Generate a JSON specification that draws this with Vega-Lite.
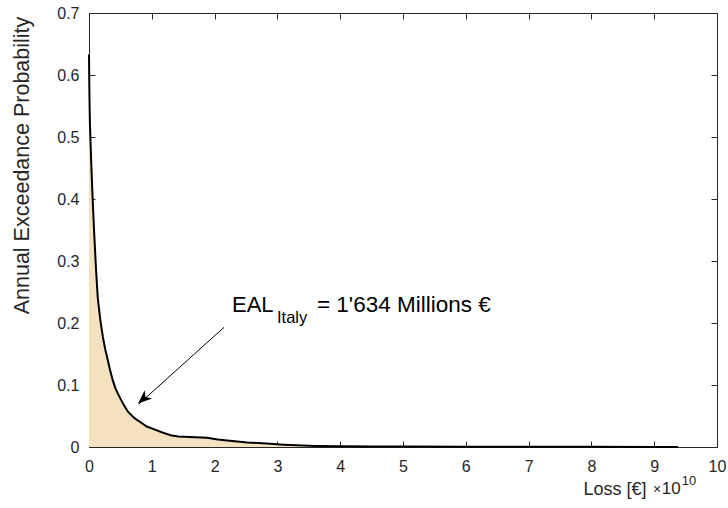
{
  "$schema": "https://vega.github.io/schema/vega-lite/v6.json",
  "width": 628,
  "height": 434,
  "autosize": "none",
  "padding": {"left": 89, "top": 13, "right": 11, "bottom": 61},
  "background": "white",
  "config": {
    "font": "Liberation Sans",
    "view": {"stroke": "#262626", "strokeWidth": 1},
    "axis": {
      "grid": false,
      "domainColor": "#262626",
      "tickColor": "#262626",
      "labelColor": "#262626",
      "titleColor": "#262626",
      "labelFontSize": 16,
      "titleFontSize": 18,
      "titleFontWeight": "normal",
      "tickSize": -6,
      "tickWidth": 1
    }
  },
  "datasets": {
    "aep": [
      {"loss": 0.0, "aep": 0.633},
      {"loss": 0.003, "aep": 0.6},
      {"loss": 0.008, "aep": 0.56},
      {"loss": 0.015, "aep": 0.52},
      {"loss": 0.025, "aep": 0.49},
      {"loss": 0.035, "aep": 0.46},
      {"loss": 0.05, "aep": 0.42},
      {"loss": 0.065, "aep": 0.385},
      {"loss": 0.08, "aep": 0.35},
      {"loss": 0.11, "aep": 0.29},
      {"loss": 0.14, "aep": 0.24},
      {"loss": 0.18, "aep": 0.205},
      {"loss": 0.22, "aep": 0.178},
      {"loss": 0.26, "aep": 0.157},
      {"loss": 0.3, "aep": 0.14},
      {"loss": 0.34, "aep": 0.122},
      {"loss": 0.38, "aep": 0.107},
      {"loss": 0.42, "aep": 0.095},
      {"loss": 0.46, "aep": 0.086},
      {"loss": 0.5, "aep": 0.078},
      {"loss": 0.56, "aep": 0.067},
      {"loss": 0.62, "aep": 0.057},
      {"loss": 0.72, "aep": 0.047},
      {"loss": 0.82, "aep": 0.04},
      {"loss": 0.92, "aep": 0.033},
      {"loss": 1.05, "aep": 0.028},
      {"loss": 1.18, "aep": 0.023},
      {"loss": 1.3, "aep": 0.019},
      {"loss": 1.42, "aep": 0.017},
      {"loss": 1.6, "aep": 0.016},
      {"loss": 1.88, "aep": 0.015},
      {"loss": 2.05, "aep": 0.012},
      {"loss": 2.2, "aep": 0.0105},
      {"loss": 2.52, "aep": 0.0073},
      {"loss": 2.83, "aep": 0.0056},
      {"loss": 3.1, "aep": 0.0038},
      {"loss": 3.31, "aep": 0.0028},
      {"loss": 3.6, "aep": 0.0018},
      {"loss": 4.0, "aep": 0.0013},
      {"loss": 4.5, "aep": 0.001},
      {"loss": 5.0, "aep": 0.0008},
      {"loss": 6.0, "aep": 0.0005},
      {"loss": 7.0, "aep": 0.0004},
      {"loss": 8.0, "aep": 0.0003},
      {"loss": 9.0, "aep": 0.0002},
      {"loss": 9.38, "aep": 0.0001}
    ]
  },
  "layer": [
    {
      "layer": [
        {
          "data": {"name": "aep"},
          "mark": {"type": "area", "color": "#f4e1c0", "interpolate": "linear"},
          "encoding": {
            "x": {
              "field": "loss",
              "type": "quantitative",
              "scale": {"domain": [0, 10], "nice": false, "zero": false},
              "axis": {
                "orient": "bottom",
                "values": [0, 1, 2, 3, 4, 5, 6, 7, 8, 9, 10],
                "format": "d",
                "labelPadding": 17,
                "labelFlush": false,
                "title": "Loss [€]",
                "titleAnchor": null,
                "titleAlign": "left",
                "titleBaseline": "alphabetic",
                "titleX": 494,
                "titleY": 47
              }
            },
            "y": {
              "field": "aep",
              "type": "quantitative",
              "scale": {"domain": [0, 0.7], "nice": false, "zero": false},
              "axis": {
                "orient": "left",
                "values": [0, 0.1, 0.2, 0.3, 0.4, 0.5, 0.6, 0.7],
                "format": "~g",
                "labelPadding": 16,
                "labelFlush": false,
                "title": "Annual Exceedance Probability",
                "titleFontSize": 21.5,
                "titleAngle": 270,
                "titleAlign": "center",
                "titleBaseline": "alphabetic",
                "titleX": -61,
                "titleY": 152
              }
            }
          }
        },
        {
          "data": {"name": "aep"},
          "mark": {"type": "line", "color": "#000000", "strokeWidth": 2, "interpolate": "linear"},
          "encoding": {
            "x": {"field": "loss", "type": "quantitative"},
            "y": {"field": "aep", "type": "quantitative"}
          }
        },
        {
          "data": {"values": [{}]},
          "mark": {"type": "rule", "color": "#000000", "strokeWidth": 1},
          "encoding": {
            "x": {"datum": 2.15, "type": "quantitative"},
            "y": {"datum": 0.193, "type": "quantitative"},
            "x2": {"datum": 0.79},
            "y2": {"datum": 0.069}
          }
        },
        {
          "data": {"values": [{}]},
          "mark": {
            "type": "point",
            "shape": "M0,0 L0.4,1 L0,0.72 L-0.4,1 Z",
            "size": 784,
            "filled": true,
            "color": "#000000",
            "opacity": 1,
            "strokeWidth": 0,
            "angle": 228.5
          },
          "encoding": {
            "x": {"datum": 0.78, "type": "quantitative"},
            "y": {"datum": 0.07, "type": "quantitative"}
          }
        },
        {
          "data": {"values": [{}]},
          "mark": {"type": "text", "text": "EAL", "fontSize": 22, "align": "left", "baseline": "alphabetic", "color": "#000000"},
          "encoding": {
            "x": {"datum": 2.277, "type": "quantitative"},
            "y": {"datum": 0.2185, "type": "quantitative"}
          }
        },
        {
          "data": {"values": [{}]},
          "mark": {"type": "text", "text": "Italy", "fontSize": 16.5, "align": "left", "baseline": "alphabetic", "color": "#000000"},
          "encoding": {
            "x": {"datum": 2.994, "type": "quantitative"},
            "y": {"datum": 0.2008, "type": "quantitative"}
          }
        },
        {
          "data": {"values": [{}]},
          "mark": {"type": "text", "text": "= 1'634 Millions €", "fontSize": 22.5, "align": "left", "baseline": "alphabetic", "color": "#000000"},
          "encoding": {
            "x": {"datum": 3.63, "type": "quantitative"},
            "y": {"datum": 0.2185, "type": "quantitative"}
          }
        },
        {
          "data": {"values": [{}]},
          "mark": {"type": "text", "text": "×", "fontSize": 14, "align": "left", "baseline": "alphabetic", "color": "#262626"},
          "encoding": {
            "x": {"datum": 8.98, "type": "quantitative"},
            "y": {"datum": -0.075, "type": "quantitative"}
          }
        },
        {
          "data": {"values": [{}]},
          "mark": {"type": "text", "text": "10", "fontSize": 17, "align": "left", "baseline": "alphabetic", "color": "#262626"},
          "encoding": {
            "x": {"datum": 9.12, "type": "quantitative"},
            "y": {"datum": -0.075, "type": "quantitative"}
          }
        },
        {
          "data": {"values": [{}]},
          "mark": {"type": "text", "text": "10", "fontSize": 13, "align": "left", "baseline": "alphabetic", "color": "#262626"},
          "encoding": {
            "x": {"datum": 9.44, "type": "quantitative"},
            "y": {"datum": -0.0605, "type": "quantitative"}
          }
        }
      ]
    },
    {
      "data": {"values": [{"loss": 0, "aep": 0}]},
      "mark": {"type": "point", "opacity": 0},
      "encoding": {
        "x": {
          "field": "loss",
          "type": "quantitative",
          "scale": {"domain": [0, 10], "nice": false, "zero": false},
          "axis": {
            "orient": "top",
            "values": [0, 1, 2, 3, 4, 5, 6, 7, 8, 9, 10],
            "labels": false,
            "domain": false,
            "title": null
          }
        },
        "y": {
          "field": "aep",
          "type": "quantitative",
          "scale": {"domain": [0, 0.7], "nice": false, "zero": false},
          "axis": {
            "orient": "right",
            "values": [0, 0.1, 0.2, 0.3, 0.4, 0.5, 0.6, 0.7],
            "labels": false,
            "domain": false,
            "title": null
          }
        }
      }
    }
  ],
  "resolve": {"axis": {"x": "independent", "y": "independent"}}
}
